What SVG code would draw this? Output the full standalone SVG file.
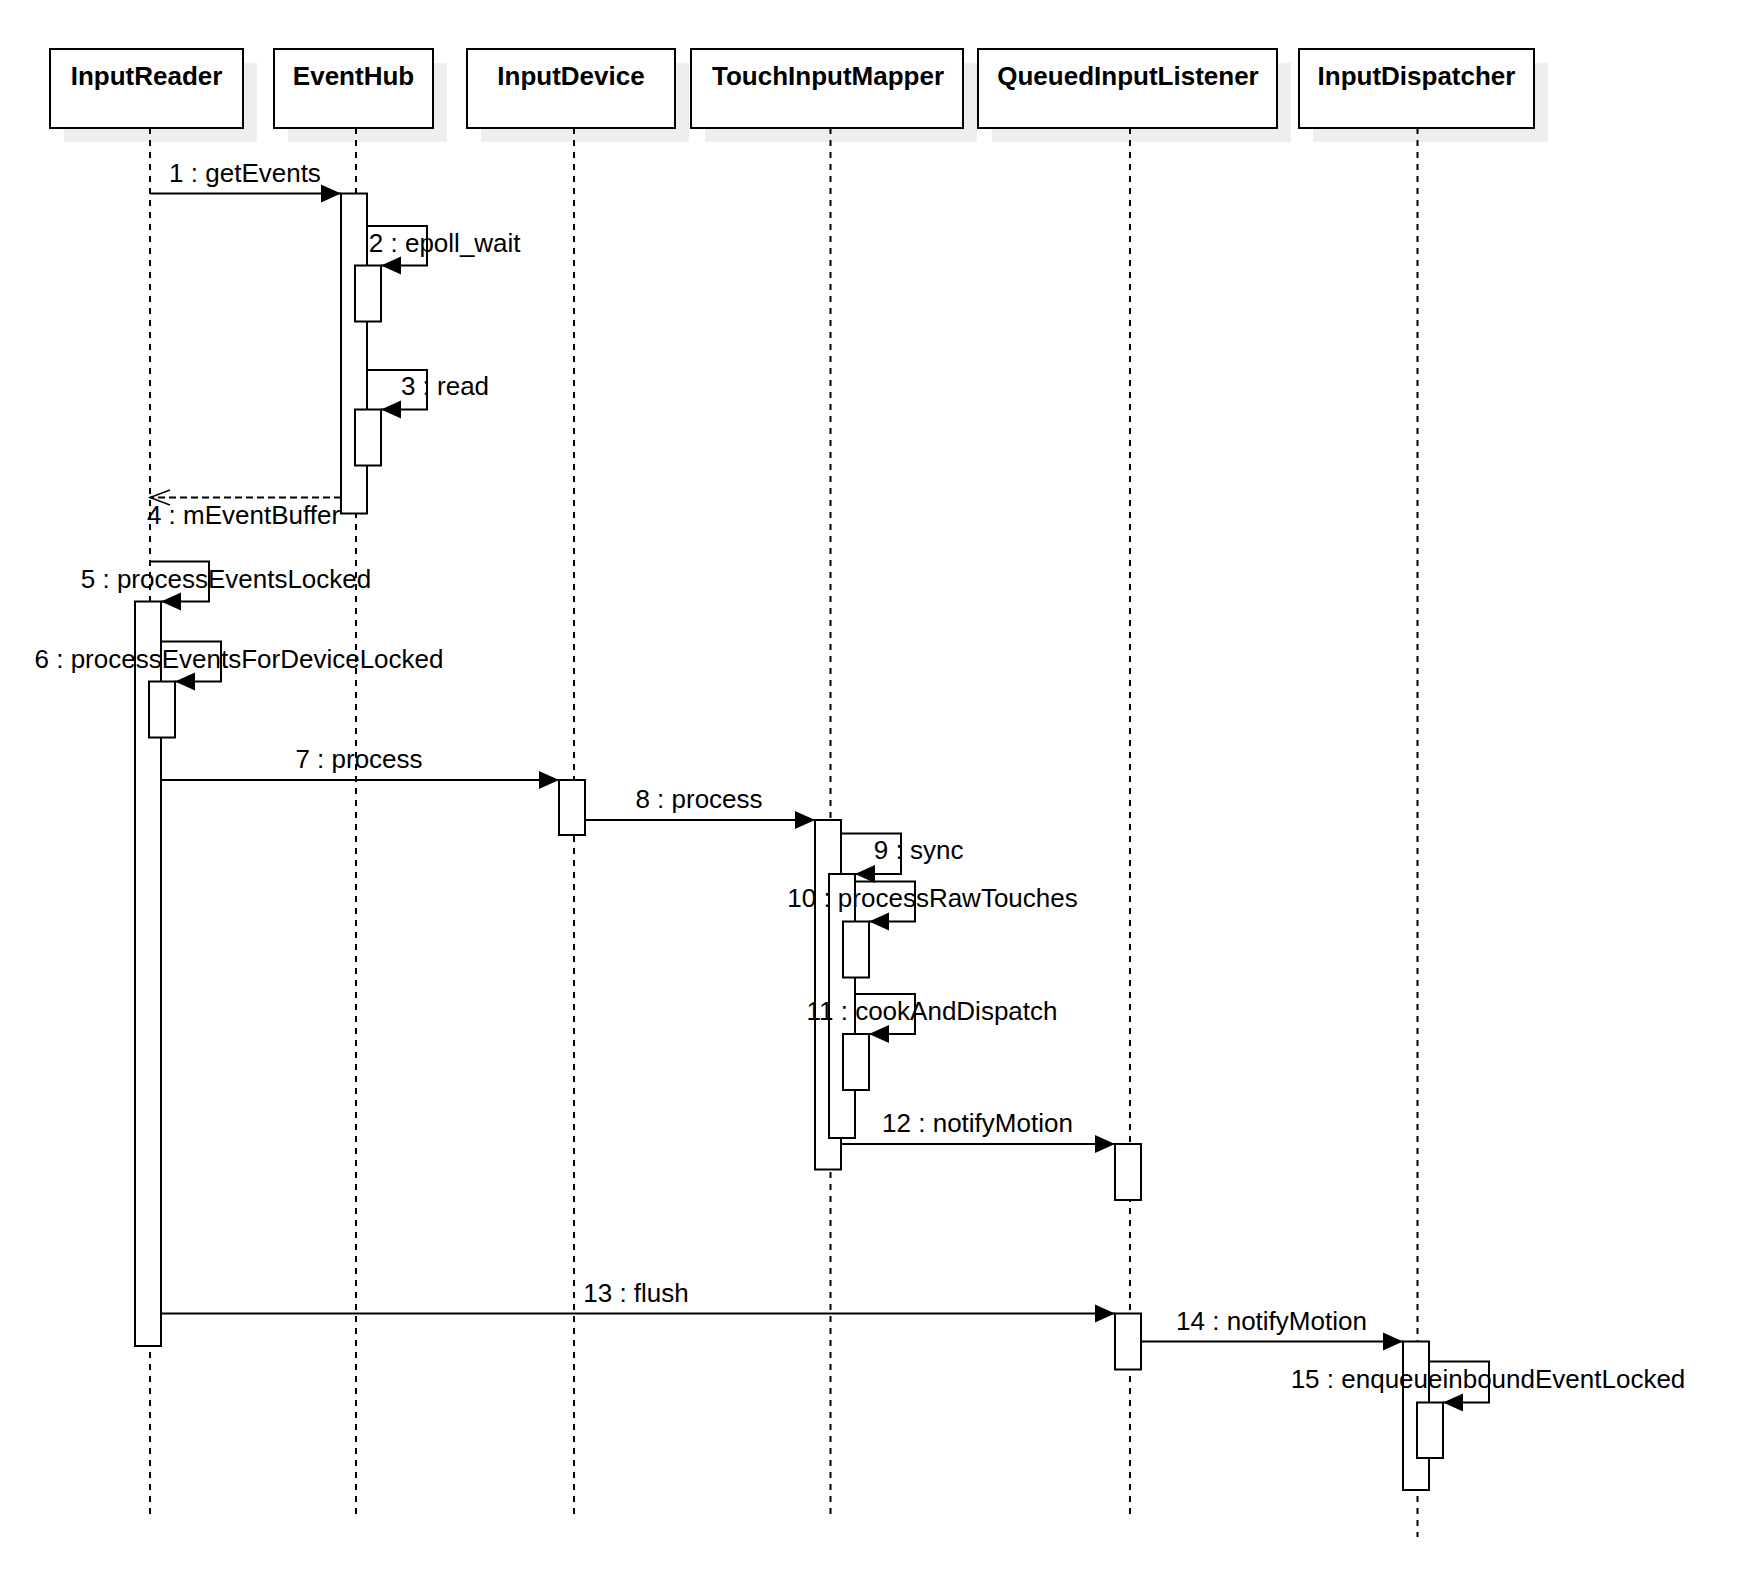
<svg xmlns="http://www.w3.org/2000/svg" width="1750" height="1588" viewBox="0 0 1750 1588">
<style>
.shadow{fill:#eeeeee;stroke:none}
.box{fill:#ffffff;stroke:#000;stroke-width:2}
.hdr{font-family:"Liberation Sans",Arial,sans-serif;font-size:26px;font-weight:bold;text-anchor:middle;fill:#000}
.life{stroke:#000;stroke-width:2;stroke-dasharray:6 6;fill:none}
.act{fill:#ffffff;stroke:#000;stroke-width:2}
.msg{stroke:#000;stroke-width:2;fill:none}
.ret{stroke:#000;stroke-width:2;fill:none;stroke-dasharray:7 4}
.lbl{font-family:"Liberation Sans",Arial,sans-serif;font-size:26px;text-anchor:middle;fill:#000}
</style>
<defs>
<marker id="fa" markerUnits="userSpaceOnUse" markerWidth="22" markerHeight="20" refX="20" refY="9" orient="auto" overflow="visible">
<path d="M0,0 L20,9 L0,18 z" fill="#000"/>
</marker>
<marker id="oa" markerUnits="userSpaceOnUse" markerWidth="22" markerHeight="18" refX="20" refY="7.5" orient="auto" overflow="visible">
<path d="M0,0 L20,7.5 L0,15" fill="none" stroke="#000" stroke-width="1.5"/>
</marker>
</defs>
<rect width="1750" height="1588" fill="#ffffff"/>

<g id="InputReader">
<rect class="shadow" x="64" y="63" width="193" height="79"/>
<rect class="box" x="50" y="49" width="193" height="79"/>
<text class="hdr" x="146.5" y="85">InputReader</text>
<line class="life" x1="150" y1="128" x2="150" y2="1515"/>
</g>
<g id="EventHub">
<rect class="shadow" x="288" y="63" width="159" height="79"/>
<rect class="box" x="274" y="49" width="159" height="79"/>
<text class="hdr" x="353.5" y="85">EventHub</text>
<line class="life" x1="356" y1="128" x2="356" y2="1515"/>
</g>
<g id="InputDevice">
<rect class="shadow" x="481" y="63" width="208" height="79"/>
<rect class="box" x="467" y="49" width="208" height="79"/>
<text class="hdr" x="571" y="85">InputDevice</text>
<line class="life" x1="574" y1="128" x2="574" y2="1515"/>
</g>
<g id="TouchInputMapper">
<rect class="shadow" x="705" y="63" width="272" height="79"/>
<rect class="box" x="691" y="49" width="272" height="79"/>
<text class="hdr" x="828" y="85">TouchInputMapper</text>
<line class="life" x1="830.5" y1="128" x2="830.5" y2="1515"/>
</g>
<g id="QueuedInputListener">
<rect class="shadow" x="992" y="63" width="299" height="79"/>
<rect class="box" x="978" y="49" width="299" height="79"/>
<text class="hdr" x="1128" y="85">QueuedInputListener</text>
<line class="life" x1="1130" y1="128" x2="1130" y2="1515"/>
</g>
<g id="InputDispatcher">
<rect class="shadow" x="1313" y="63" width="235" height="79"/>
<rect class="box" x="1299" y="49" width="235" height="79"/>
<text class="hdr" x="1416.5" y="85">InputDispatcher</text>
<line class="life" x1="1417.5" y1="128" x2="1417.5" y2="1537"/>
</g>

<g id="activations">
<rect class="act" x="341" y="193.5" width="26" height="320"/>
<rect class="act" x="355" y="265.5" width="26" height="56"/>
<rect class="act" x="355" y="409.5" width="26" height="56"/>
<rect class="act" x="135" y="601.5" width="26" height="744.5"/>
<rect class="act" x="149" y="681.5" width="26" height="56"/>
<rect class="act" x="559" y="780" width="26" height="55"/>
<rect class="act" x="815" y="820" width="26" height="349.5"/>
<rect class="act" x="829" y="874" width="26" height="264"/>
<rect class="act" x="843" y="921.5" width="26" height="56"/>
<rect class="act" x="843" y="1034" width="26" height="56"/>
<rect class="act" x="1115" y="1144" width="26" height="56"/>
<rect class="act" x="1115" y="1313.5" width="26" height="56"/>
<rect class="act" x="1403" y="1341.5" width="26" height="148.5"/>
<rect class="act" x="1417" y="1402.5" width="26" height="55.5"/>
</g>

<g id="connectors">
<line class="msg" x1="150" y1="193.5" x2="341" y2="193.5" marker-end="url(#fa)"/>
<path class="msg" d="M367,226 H427 V265.5 H381" marker-end="url(#fa)"/>
<path class="msg" d="M367,370 H427 V409.5 H381" marker-end="url(#fa)"/>
<line class="ret" x1="341" y1="497.5" x2="150" y2="497.5" marker-end="url(#oa)"/>
<path class="msg" d="M150,561.5 H209 V601.5 H161" marker-end="url(#fa)"/>
<path class="msg" d="M161,641.5 H221 V681.5 H175" marker-end="url(#fa)"/>
<line class="msg" x1="161" y1="780" x2="559" y2="780" marker-end="url(#fa)"/>
<line class="msg" x1="585" y1="820" x2="815" y2="820" marker-end="url(#fa)"/>
<path class="msg" d="M841,833.5 H901 V874 H855" marker-end="url(#fa)"/>
<path class="msg" d="M855,881.5 H915 V921.5 H869" marker-end="url(#fa)"/>
<path class="msg" d="M855,994 H915 V1034 H869" marker-end="url(#fa)"/>
<line class="msg" x1="841" y1="1144" x2="1115" y2="1144" marker-end="url(#fa)"/>
<line class="msg" x1="161" y1="1313.5" x2="1115" y2="1313.5" marker-end="url(#fa)"/>
<line class="msg" x1="1141" y1="1341.5" x2="1403" y2="1341.5" marker-end="url(#fa)"/>
<path class="msg" d="M1429,1361.5 H1489 V1402.5 H1443" marker-end="url(#fa)"/>
</g>

<g id="labels">
<text class="lbl" x="245" y="182">1 : getEvents</text>
<text class="lbl" x="444.7" y="252">2 : epoll_wait</text>
<text class="lbl" x="445" y="395">3 : read</text>
<text class="lbl" x="243.5" y="524">4 : mEventBuffer</text>
<text class="lbl" x="226" y="588">5 : processEventsLocked</text>
<text class="lbl" x="239" y="668">6 : processEventsForDeviceLocked</text>
<text class="lbl" x="359" y="768">7 : process</text>
<text class="lbl" x="699" y="808">8 : process</text>
<text class="lbl" x="918.6" y="859">9 : sync</text>
<text class="lbl" x="932.5" y="907">10 : processRawTouches</text>
<text class="lbl" x="932" y="1019.5">11 : cookAndDispatch</text>
<text class="lbl" x="977.5" y="1132">12 : notifyMotion</text>
<text class="lbl" x="636" y="1301.7">13 : flush</text>
<text class="lbl" x="1271.5" y="1330">14 : notifyMotion</text>
<text class="lbl" x="1488" y="1387.5">15 : enqueueinboundEventLocked</text>
</g>
</svg>
